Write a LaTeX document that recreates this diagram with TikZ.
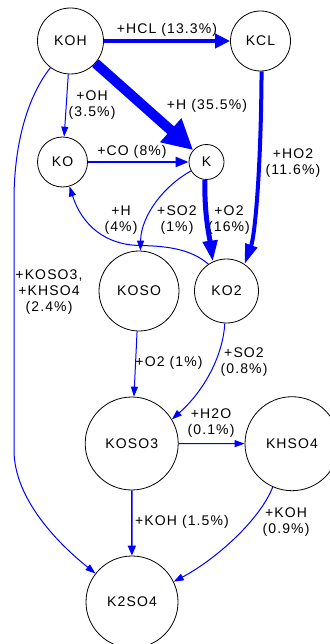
\documentclass[tikz,border=0pt]{standalone}
\usepackage{fontspec}
\setmainfont{Liberation Sans}[LetterSpace=8]
\usetikzlibrary{arrows.meta}
\begin{document}
\begin{tikzpicture}[x=1pt,y=-1pt,
  st/.style={circle,draw=black,line width=0.8pt,inner sep=0pt,font=\fontsize{14}{16}\selectfont},
  ed/.style={draw=blue,line width=1pt,-{Triangle[length=10pt,width=7pt]}},
  lb/.style={align=center,font=\fontsize{14}{16}\selectfont,inner sep=0pt}]
\useasboundingbox (0,0) rectangle (329,644);
% nodes
\node[st,minimum size=66pt] (KOH) at (70.5,41) {KOH};
\node[st,minimum size=60pt] (KCL) at (260.5,41) {KCL};
\node[st,minimum size=50pt] (KO) at (62.5,162) {KO};
\node[st,minimum size=35pt] (K) at (206.5,162) {K};
\node[st,minimum size=80pt] (KOSO) at (139,291) {KOSO};
\node[st,minimum size=64pt] (KO2) at (226.5,291) {KO2};
\node[st,minimum size=93pt] (KOSO3) at (131.7,443.5) {KOSO3};
\node[st,minimum size=94pt] (KHSO4) at (292,443.7) {KHSO4};
\node[st,minimum size=92pt] (K2SO4) at (132,602) {K2SO4};
% edges
\draw[ed,line width=4.5pt,-{Triangle[length=15pt,width=14pt]}] (KOH) -- (KCL);
\draw[ed,line width=10pt,-{Triangle[length=30pt,width=30pt]}] (KOH) -- (K);
\draw[ed] (KOH) -- (KO);
\draw[ed,line width=2.5pt,-{Triangle[length=13pt,width=10pt]}] (KO) -- (K);
\draw[ed,line width=4pt,-{Triangle[length=20pt,width=12pt]}] (KCL.-88) .. controls (261,170) and (255,235) .. (KO2.56);
\draw[ed,line width=5pt,-{Triangle[length=21pt,width=14pt]}] (K.-95) .. controls (204,215) and (210,240) .. (KO2.115);
\draw[ed] (K.-150) .. controls (165,185) and (141,215) .. (KOSO.88);
\draw[ed] (KO2.124) .. controls (192,250) and (170,246) .. (140,245.5) .. controls (105,245) and (82,225) .. (KO.-74);
\draw[ed] (KOH.233) .. controls (25,100) and (14,150) .. (14,200) -- (14,450) .. controls (14,500) and (60,545) .. (K2SO4.142);
\draw[ed] (KOSO) -- (KOSO3);
\draw[ed] (KO2.-93) .. controls (223,355) and (205,390) .. (KOSO3.31);
\draw[ed] (KOSO3) -- (KHSO4);
\draw[ed,line width=1.5pt,-{Triangle[length=10pt,width=8pt]}] (KOSO3) -- (K2SO4);
\draw[ed] (KHSO4.-114) .. controls (260,520) and (215,560) .. (K2SO4.26);
% labels
\node[lb] (l1) at (167,30) {+HCL (13.3\%)};
\node[lb] (l2) at (207,106) {+H (35.5\%)};
\node[lb] (l3) at (92,105) {+OH\\(3.5\%)};
\node[lb] (l4) at (132,152) {+CO (8\%)};
\node[lb] (l5) at (293,163) {+HO2\\(11.6\%)};
\node[lb] (l6) at (121,220) {+H\\(4\%)};
\node[lb] (l7) at (177,220) {+SO2\\(1\%)};
\node[lb] (l8) at (229,220) {+O2\\(16\%)};
\node[lb] (l9) at (49,292) {+KOSO3,\\+KHSO4\\(2.4\%)};
\node[lb] (l10) at (169,363) {+O2 (1\%)};
\node[lb] (l11) at (244,362) {+SO2\\(0.8\%)};
\node[lb] (l12) at (211,423) {+H2O\\(0.1\%)};
\node[lb] (l13) at (182,522) {+KOH (1.5\%)};
\node[lb] (l14) at (286,522) {+KOH\\(0.9\%)};
\end{tikzpicture}
\end{document}
